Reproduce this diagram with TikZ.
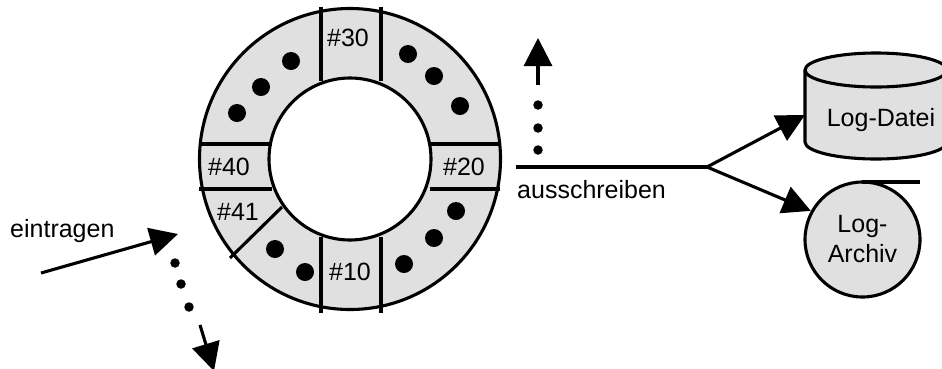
\documentclass[tikz,border=0pt]{standalone}
\usepackage{fontspec}
\setmainfont{Liberation Sans}
\usepackage{tikz}
\usetikzlibrary{arrows.meta,positioning,calc}
\tikzset{
    line/.style={black, line width=3.1pt},
    flow/.style={line, -{Triangle[length=28pt,width=28pt]}},
    filled/.style={line, fill=black!12},
    blob/.style={circle, fill=black, inner sep=0pt, minimum size=#1},
    label/.style={font=\fontsize{25}{30}\selectfont, inner sep=0pt, align=center}
}
\begin{document}
\begin{tikzpicture}[x=1pt,y=-1pt]
    \useasboundingbox (0,0) rectangle (942,368);
    \clip (0,0) rectangle (942,368);

    % Ring
    \coordinate (ringc) at (350,159);
    \draw[filled] (ringc) circle (150.5);
    \draw[line, fill=white] (ringc) circle (81);

    % Slot separators
    \foreach \x in {321,381} {
        \draw[line] (\x,7) -- (\x,81);
        \draw[line] (\x,237) -- (\x,313);
    }
    \foreach \y in {144,189} {
        \draw[line] (199,\y) -- (272,\y);
        \draw[line] (430,\y) -- (500,\y);
    }
    \draw[line] (230,258) -- (282,207);

    % Slot labels
    \node[label] (s30) at (348,38) {\#30};
    \node[label] (s20) at (464,167) {\#20};
    \node[label] (s10) at (350,272) {\#10};
    \node[label] (s40) at (229,167) {\#40};
    \node[label] (s41) at (238,212) {\#41};

    % Dots on the ring
    \foreach \x/\y in {291/61,261/87,237/113,408/54,434/76,460/106,456/211,434/238,404/264,275/249,305/272} {
        \node[blob=18pt] at (\x,\y) {};
    }

    % Writing out
    \coordinate (outa) at (516,167);
    \coordinate (fork) at (707,167);
    \draw[line] (outa) -- (fork);
    \node[label, anchor=west] (aus) at (517,190) {ausschreiben};
    \foreach \y in {105,128,150} {
        \node[blob=9.5pt] at (538,\y) {};
    }
    \coordinate (upa) at (538,85);
    \coordinate (upb) at (538,38);
    \draw[flow] (upa) -- (upb);

    % Log-Datei
    \draw[filled] (805,70) arc[start angle=180, end angle=360, x radius=71, y radius=17]
        -- (947,142) arc[start angle=0, end angle=180, x radius=71, y radius=17] -- cycle;
    \draw[line] (805,70) arc[start angle=180, end angle=0, x radius=71, y radius=17];
    \node[label] (datei) at (881,120) {Log-Datei};
    \coordinate (dateiw) at (805,115);
    \draw[flow] (fork) -- (dateiw);

    % Log-Archiv
    \node[circle, draw, filled, label, minimum size=115pt] (archiv) at (862.5,239.5) {Log-\\Archiv};
    \coordinate (archn) at (920,182);
    \draw[line] (862,182) -- (archn);
    \draw[flow] (fork) -- (archiv.151);

    % Writing in
    \node[label, anchor=west] (ein) at (10,231) {eintragen};
    \coordinate (ina) at (41,273);
    \coordinate (inb) at (178,234);
    \draw[flow] (ina) -- (inb);
    \foreach \x/\y in {175/263,181/284,189/307} {
        \node[blob=9.5pt] at (\x,\y) {};
    }
    \coordinate (dna) at (200,325);
    \coordinate (dnb) at (214,371);
    \draw[flow] (dna) -- (dnb);
\end{tikzpicture}
\end{document}
